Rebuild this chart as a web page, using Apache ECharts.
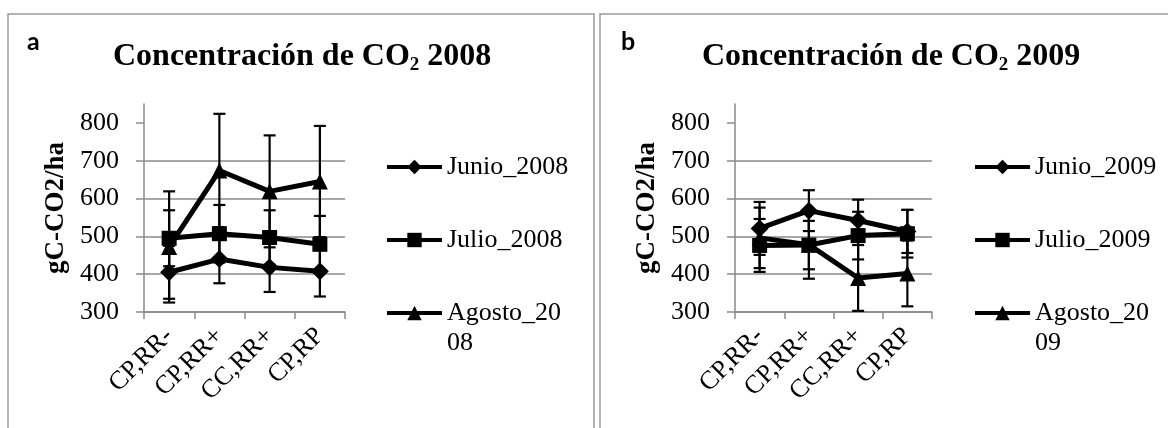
<!DOCTYPE html>
<html>
<head>
<meta charset="utf-8">
<script src="https://cdn.jsdelivr.net/npm/echarts@6/dist/echarts.min.js"></script>
<style>
html, body {margin: 0; padding: 0; background: #fff;}
#chart {width: 1168px; height: 428px;}
</style>
</head>
<body>
<div id="chart"></div>
<script>
// categorias del eje x
var categorias = ['CP,RR-', 'CP,RR+', 'CC,RR+', 'CP,RP'];
var ticksY = [300, 400, 500, 600, 700, 800];

// 2008: medias y error (+/-)
var junio2008 = [405, 440, 418, 408];
var junioErr2008 = [70, 64, 65, 67];
var julio2008 = [495, 507, 497, 479];
var julioErr2008 = [74, 76, 72, 75];
var agosto2008 = [472, 674, 619, 645];
var agostoErr2008 = [147, 150, 148, 147];

// 2009
var junio2009 = [521, 568, 542, 513];
var junioErr2009 = [70, 54, 55, 57];
var julio2009 = [476, 477, 502, 507];
var julioErr2009 = [70, 64, 63, 63];
var agosto2009 = [496, 478, 390, 402];
var agostoErr2009 = [80, 90, 87, 87];

var serif = 'Liberation Serif';
var gris = '#8a8a8a';

// datos para barras de error: [indice, bajo, alto]
function barrasError(vals, errs) {
	var arr = [];
	for (var i = 0; i < vals.length; i++) {
		arr.push([i, vals[i] - errs[i], vals[i] + errs[i]]);
	}
	return arr;
}

function dibujaError(params, api) {
	var p1 = api.coord([api.value(0), api.value(1)]);
	var p2 = api.coord([api.value(0), api.value(2)]);
	var x = p1[0], w = 6;
	var st = {stroke: '#000', lineWidth: 2.2, fill: null};
	return {
		type: 'group',
		children: [
			{type: 'line', shape: {x1: x, y1: p1[1], x2: x, y2: p2[1]}, style: st},
			{type: 'line', shape: {x1: x - w, y1: p1[1], x2: x + w, y2: p1[1]}, style: st},
			{type: 'line', shape: {x1: x - w, y1: p2[1], x2: x + w, y2: p2[1]}, style: st}
		]
	};
}

function serieLinea(nombre, datos, simbolo, tam, idx) {
	return {
		name: nombre, type: 'line', data: datos,
		xAxisIndex: idx, yAxisIndex: idx,
		symbol: simbolo, symbolSize: tam, z: 3,
		showAllSymbol: true,
		lineStyle: {color: '#000', width: 5},
		itemStyle: {color: '#000', borderWidth: 0},
		emphasis: {disabled: true},
		animation: false
	};
}

function serieError(datos, idx) {
	return {
		type: 'custom', renderItem: dibujaError, data: datos,
		xAxisIndex: idx, yAxisIndex: idx, z: 2,
		encode: {x: 0, y: [1, 2]},
		silent: true, animation: false
	};
}

function ejeX(idx) {
	return {
		type: 'category', gridIndex: idx, data: categorias,
		axisLine: {lineStyle: {color: gris, width: 1.5}},
		axisTick: {show: true, interval: 0, length: 7, lineStyle: {color: gris, width: 1.5}},
		axisLabel: {interval: 0, rotate: 45, margin: 20, color: '#000', fontFamily: serif, fontSize: 26},
		splitLine: {show: false}
	};
}

function ejeY(idx) {
	return {
		type: 'value', gridIndex: idx, min: 300, max: 850, interval: 100,
		name: 'gC-CO2/ha', nameLocation: 'middle', nameGap: 74,
		nameTextStyle: {color: '#000', fontFamily: serif, fontWeight: 'bold', fontSize: 27},
		axisLine: {show: true, lineStyle: {color: gris, width: 1.5}},
		axisTick: {show: true, length: 8, customValues: ticksY, lineStyle: {color: gris, width: 1.5}},
		axisLabel: {margin: 25, customValues: ticksY, color: '#000', fontFamily: serif, fontSize: 26},
		splitLine: {show: true, showMaxLine: false, lineStyle: {color: gris, width: 1.5}}
	};
}

function leyenda(nombre, izq, arriba, partir) {
	return {
		data: [nombre], left: izq, top: arriba, padding: 0,
		orient: 'vertical', itemWidth: 55, itemHeight: 18, itemGap: 0,
		selectedMode: false,
		lineStyle: {width: 4},
		formatter: partir ? function (n) { return '\n' + n.slice(0, 9) + '\n' + n.slice(9); } : '{name}',
		textStyle: {color: '#000', fontFamily: serif, fontSize: 26, lineHeight: 30}
	};
}

// el 2 de CO2 va como subindice
function titulo(anio, izq) {
	return {
		text: '{t|Concentración de CO}{s|2}{t| ' + anio + '}',
		left: izq, top: 33, padding: 0,
		textStyle: {
			rich: {
				t: {color: '#000', fontFamily: serif, fontWeight: 'bold', fontSize: 32, lineHeight: 40, verticalAlign: 'bottom'},
				s: {color: '#000', fontFamily: serif, fontWeight: 'bold', fontSize: 19, lineHeight: 1, verticalAlign: 'top', padding: [23, 0, 0, 0]}
			}
		}
	};
}

function letra(txt, izq) {
	return {
		text: txt, left: izq, top: 27, padding: 0,
		textStyle: {color: '#000', fontFamily: 'Lato', fontWeight: 'bold', fontSize: 25, lineHeight: 30}
	};
}

var option = {
	backgroundColor: '#fff',
	animation: false,
	title: [letra('a', 27), titulo('2008', 113), letra('b', 621), titulo('2009', 702)],
	graphic: [
		{type: 'rect', shape: {x: 8, y: 14, width: 586, height: 440}, style: {fill: 'none', stroke: '#9a9a9a', lineWidth: 1.5}, silent: true},
		{type: 'rect', shape: {x: 600, y: 14, width: 600, height: 440}, style: {fill: 'none', stroke: '#9a9a9a', lineWidth: 1.5}, silent: true}
	],
	legend: [
		leyenda('Junio_2008', 385, 152), leyenda('Julio_2008', 385, 225), leyenda('Agosto_2008', 385, 268, true),
		leyenda('Junio_2009', 973, 152), leyenda('Julio_2009', 973, 225), leyenda('Agosto_2009', 973, 268, true)
	],
	grid: [
		{left: 144, top: 104, width: 201, height: 208},
		{left: 735, top: 104, width: 197, height: 208}
	],
	xAxis: [ejeX(0), ejeX(1)],
	yAxis: [ejeY(0), ejeY(1)],
	series: [
		serieError(barrasError(junio2008, junioErr2008), 0),
		serieError(barrasError(julio2008, julioErr2008), 0),
		serieError(barrasError(agosto2008, agostoErr2008), 0),
		serieLinea('Junio_2008', junio2008, 'diamond', [18, 18], 0),
		serieLinea('Julio_2008', julio2008, 'rect', 15, 0),
		serieLinea('Agosto_2008', agosto2008, 'triangle', 16, 0),
		serieError(barrasError(junio2009, junioErr2009), 1),
		serieError(barrasError(julio2009, julioErr2009), 1),
		serieError(barrasError(agosto2009, agostoErr2009), 1),
		serieLinea('Junio_2009', junio2009, 'diamond', [18, 18], 1),
		serieLinea('Julio_2009', julio2009, 'rect', 15, 1),
		serieLinea('Agosto_2009', agosto2009, 'triangle', 16, 1)
	]
};

var myChart = echarts.init(document.getElementById('chart'));
myChart.setOption(option);
</script>
</body>
</html>
